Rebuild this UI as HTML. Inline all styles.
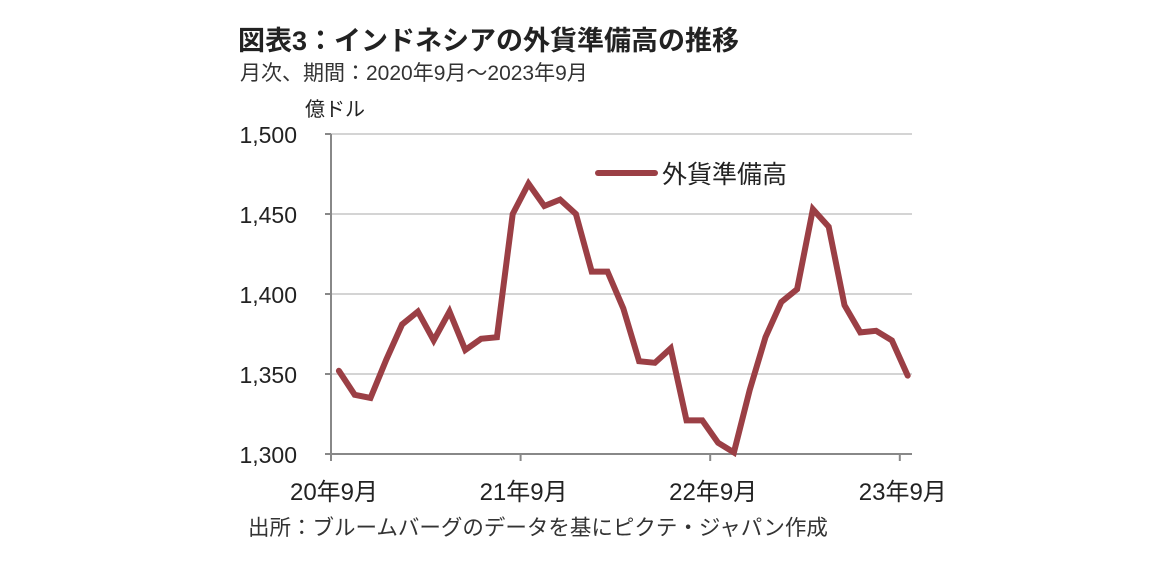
<!DOCTYPE html>
<html><head><meta charset="utf-8"><style>
body{margin:0;background:#fff;width:1152px;height:571px;overflow:hidden;font-family:"Liberation Sans","Noto Sans CJK JP",sans-serif}
</style></head><body>
<svg width="1152" height="571" id="c">
<text x="238" y="50" font-size="27" font-weight="bold" fill="#222" font-family="Liberation Sans, Noto Sans CJK JP, sans-serif">図表3：インドネシアの外貨準備高の推移</text>
<text x="240" y="80" font-size="21" fill="#333" font-family="Liberation Sans, Noto Sans CJK JP, sans-serif">月次、期間：2020年9月～2023年9月</text>
<text x="305" y="116" font-size="20" fill="#222" font-family="Liberation Sans, Noto Sans CJK JP, sans-serif">億ドル</text>
<text x="248" y="535" font-size="21.5" fill="#333" font-family="Liberation Sans, Noto Sans CJK JP, sans-serif">出所：ブルームバーグのデータを基にピクテ・ジャパン作成</text>
<g id="grid"></g><g id="axes"></g><g id="series"></g>
<line x1="598" y1="173" x2="655" y2="173" stroke="#9b3f45" stroke-width="6" stroke-linecap="round"/>
<text x="662" y="183" font-size="25" fill="#222" font-family="Liberation Sans, Noto Sans CJK JP, sans-serif">外貨準備高</text>
</svg>
<script>
const yTicks=[1300,1350,1400,1450,1500];
const xTickLabels=["20年9月","21年9月","22年9月","23年9月"];
const reserves=[1352,1337,1335,1359,1381,1389,1371,1389,1365,1372,1373,1450,1469,1455,1459,1450,1414,1414,1391,1358,1357,1366,1321,1321,1307,1301,1340,1373,1395,1403,1453,1442,1393,1376,1377,1371,1349];
const NS="http://www.w3.org/2000/svg";
const x0=331,x1=912,yB=454,yT=134,mw=15.8;
const Y=v=>yB-(v-1300)/(1500-1300)*(yB-yT);
const X=i=>x0+(i+0.5)*mw;
function mk(t,a,p){const e=document.createElementNS(NS,t);for(const k in a)e.setAttribute(k,a[k]);document.getElementById(p).appendChild(e);return e;}
yTicks.forEach(v=>{
  if(v>1300){const g=mk('line',{x1:x0,x2:x1,y1:Y(v),y2:Y(v),stroke:'#d4d4d4','stroke-width':2},'grid');
  
  }
  const t=mk('text',{x:297,y:Y(v)+9,'text-anchor':'end','font-size':23,fill:'#222','font-family':'Liberation Sans, sans-serif'},'axes');
  t.textContent=v.toLocaleString('en-US');
  
  
  const tk=mk('line',{x1:x0-6,x2:x0,y1:Y(v),y2:Y(v),stroke:'#888','stroke-width':2},'axes');
  
  
});
const ya=mk('line',{x1:x0,x2:x0,y1:yT,y2:yB,stroke:'#888','stroke-width':2},'axes');


const xa=mk('line',{x1:x0,x2:x1,y1:yB,y2:yB,stroke:'#888','stroke-width':2},'axes');


xTickLabels.forEach((l,i)=>{
  const x=x0+i*12*mw;
  const tk=mk('line',{x1:x,x2:x,y1:yB,y2:yB+7,stroke:'#888','stroke-width':2},'axes');
  
  
  const t=mk('text',{x:x+3,y:500,'text-anchor':'middle','font-size':24,fill:'#222','font-family':'Liberation Sans, Noto Sans CJK JP, sans-serif'},'axes');
  t.textContent=l;
  
  
});
const p=mk('polyline',{points:reserves.map((v,i)=>X(i)+','+Y(v)).join(' '),fill:'none',stroke:'#9b3f45','stroke-width':6,'stroke-linejoin':'miter','stroke-linecap':'round'},'series');


</script>
</body></html>
